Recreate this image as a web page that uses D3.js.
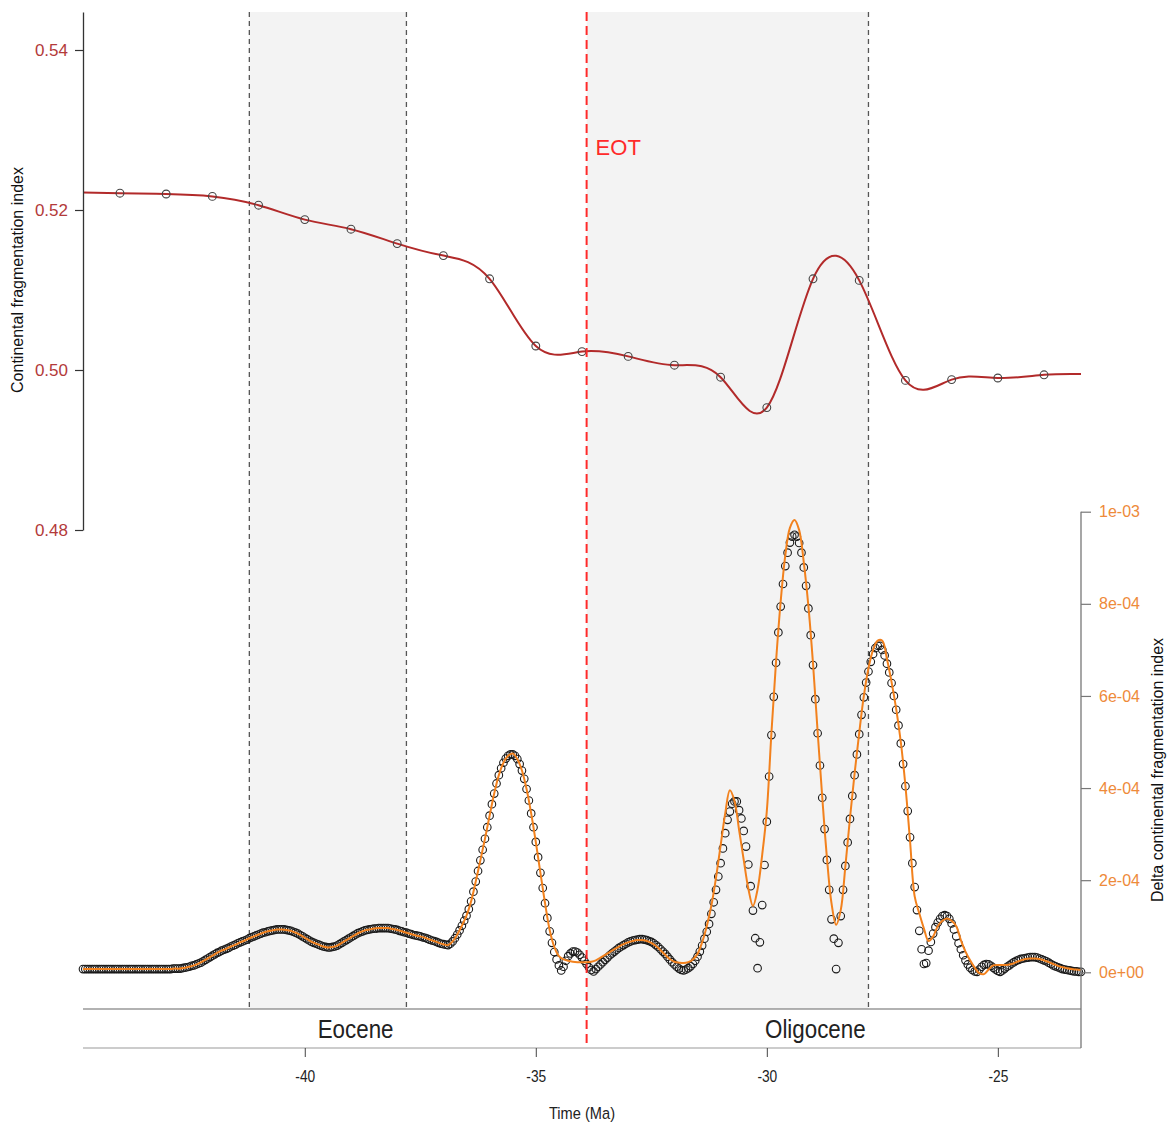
<!DOCTYPE html>
<html><head><meta charset="utf-8">
<script src="https://cdn.jsdelivr.net/npm/d3@7"></script>
<style>body{margin:0;background:#fff}svg{display:block}</style>
</head><body>
<svg id="chart" width="1173" height="1127"></svg>
<script>
// ---------------- data ----------------
const topTimes = [-44,-43,-42,-41,-40,-39,-38,-37,-36,-35,-34,-33,-32,-31,-30,-29,-28,-27,-26,-25,-24];
const topValues = [0.5221,0.5220,0.5217,0.5206,0.5188,0.5176,0.5158,0.5143,0.5114,0.5030,0.5023,0.5017,0.5006,0.4991,0.4953,0.5114,0.5112,0.4987,0.4988,0.4990,0.4994];
const topLineStart = [-44.8, 0.5222];
const topLineEnd = [-23.2, 0.4995];

// delta circles: sampled every 0.05 Ma from -44.8, values in 1e-6
const deltaStart = -44.8, deltaStep = 0.05, deltaUnit = 1e-6;
const deltaValues = [
7,7,7,7,7,7,7,7,7,7,7,7,7,7,7,7,7,7,7,7,
7,7,7,7,7,7,7,7,7,7,7,7,7,7,7,7,7,7,7,8,
8,8,8,9,10,11,12,14,15,17,19,21,24,27,30,33,36,39,42,44,
47,49,51,53,56,58,60,63,65,67,69,71,74,76,78,80,82,84,86,87,
89,90,91,92,93,93,93,93,92,91,90,88,86,84,81,78,75,72,69,66,
64,62,60,58,56,55,54,54,55,56,58,61,64,67,70,73,76,79,82,85,
87,89,91,92,93,94,95,95,96,96,96,96,96,95,94,93,92,90,89,87,
86,84,83,81,80,79,78,76,75,73,71,69,68,66,64,62,61,60,59,62,
67,74,82,91,101,112,123,137,154,175,197,220,243,266,290,315,340,365,388,410,
428,443,455,464,470,473,473,470,463,452,438,420,398,373,345,315,283,250,216,183,
150,118,89,64,44,28,15,4,12,25,35,41,45,45,43,38,32,25,18,11,
5,2,7,12,17,22,27,32,37,41,45,49,53,56,59,62,65,67,69,70,
71,72,72,71,70,68,66,63,59,55,50,45,40,34,28,22,17,12,8,5,
4,6,9,13,18,25,34,45,58,73,88,105,127,152,179,208,237,269,302,331,
349,366,371,371,352,334,307,273,234,187,134,74,9,65,146,233,327,425,515,598,
672,738,794,843,882,911,933,946,950,946,932,911,879,839,790,732,667,593,519,449,
379,311,244,179,115,73,7,64,122,179,231,282,333,383,428,473,517,559,597,629,
653,674,691,704,709,709,700,688,670,651,628,600,570,536,497,452,404,350,293,237,
185,135,90,50,18,20,47,66,84,98,108,116,122,124,122,116,106,93,78,63,
50,37,26,17,10,5,2,1,6,12,16,18,17,14,10,6,3,1,4,8,
12,15,19,22,25,27,29,30,31,32,33,33,33,32,30,28,26,24,21,18,
15,13,11,9,7,6,5,4,3,2,2,1,1
];

// smoothed delta (orange line): every 0.1 Ma from -44.8, values in 1e-6
const smoothStart = -44.8, smoothStep = 0.1;
const smoothValues = [
7,7,7,7,7,7,7,7,7,7,
7,7,7,7,7,7,7,7,7,7,
8,8,10,12,15,19,24,30,36,42,
47,51,56,60,65,69,74,78,82,86,
89,91,93,93,92,90,86,81,75,69,
64,60,56,54,55,58,64,70,76,82,
87,91,93,95,96,96,96,94,92,89,
86,83,80,78,75,71,68,64,61,59,
67,82,101,123,154,197,243,290,340,388,
428,455,470,475,463,438,398,345,283,216,
150,92,55,35,28,25,23,22,22,22,
23,26,32,38,44,50,56,61,65,68,
70,70,68,64,57,48,38,29,23,21,
20,22,28,40,65,100,145,205,275,345,
395,372,309,244,182,144,180,255,350,520,
675,805,905,965,982,960,890,795,670,522,
380,250,150,103,135,230,335,432,520,600,
660,700,720,720,680,630,572,500,405,285,
165,128,95,68,78,100,112,117,112,100,
70,45,26,10,-2,-4,6,15,16,16,
16,18,22,26,29,30,30,29,26,22,
18,14,11,9,7,6,5
];

const leftTicks = [0.48, 0.50, 0.52, 0.54];
const leftTickLabels = ["0.48", "0.50", "0.52", "0.54"];
const rightTicks = [0, 2e-4, 4e-4, 6e-4, 8e-4, 1e-3];
const rightTickLabels = ["0e+00", "2e-04", "4e-04", "6e-04", "8e-04", "1e-03"];
const timeTicks = [-40, -35, -30, -25];
const timeTickLabels = ["-40", "-35", "-30", "-25"];
const shadeStarts = [-41.2, -33.9];
const shadeEnds = [-37.8, -27.8];
const dashedTimes = [-41.2, -37.8, -27.8];
const eotTime = -33.9;
const eotLabel = "EOT";
const epochNames = ["Eocene", "Oligocene"];
const epochLabelTimes = [-38.9, -28.95];
const timeDomain = [-44.8, -23.2];

// ---------------- layout ----------------
const svg = d3.select("#chart");
const L = 83, R = 1081, TOP = 12, BAR_TOP = 1009, BAR_BOT = 1048;
const x = d3.scaleLinear().domain(timeDomain).range([L, R]);
const yTop = d3.scaleLinear().domain([0.48, 0.54475]).range([530, TOP]);
const yBot = d3.scaleLinear().domain([0, 1e-3]).range([972.3, 511.7]);

const RED = "#b22a2a", ORANGE = "#f2811d", EOTRED = "#ff2a2a";
const FONT = "'Liberation Sans', Arial, sans-serif";

// shaded intervals
svg.append("g").selectAll("rect").data(shadeStarts).join("rect")
  .attr("x", (d) => x(d)).attr("y", TOP)
  .attr("width", (d, i) => x(shadeEnds[i]) - x(d)).attr("height", BAR_TOP - TOP)
  .attr("fill", "#f3f3f3");

// dashed boundary lines
svg.append("g").selectAll("line").data(dashedTimes).join("line")
  .attr("x1", (d) => x(d)).attr("x2", (d) => x(d))
  .attr("y1", TOP).attr("y2", BAR_TOP)
  .attr("stroke", "#555").attr("stroke-width", 1.3).attr("stroke-dasharray", "5,4");

// top series
const topPts = topTimes.map((t, i) => [t, topValues[i]]);
const topLinePts = [topLineStart, ...topPts, topLineEnd];
svg.append("path").datum(topLinePts)
  .attr("fill", "none").attr("stroke", RED).attr("stroke-width", 2)
  .attr("d", d3.line().x((d) => x(d[0])).y((d) => yTop(d[1])).curve(d3.curveNatural));
svg.append("g").selectAll("circle").data(topPts).join("circle")
  .attr("cx", (d) => x(d[0])).attr("cy", (d) => yTop(d[1])).attr("r", 3.9)
  .attr("fill", "none").attr("stroke", "#444").attr("stroke-width", 1.1);

// delta circles
const deltaPts = deltaValues.map((v, i) => [deltaStart + i * deltaStep, v * deltaUnit]);
svg.append("g").selectAll("circle").data(deltaPts).join("circle")
  .attr("cx", (d) => x(d[0])).attr("cy", (d) => yBot(d[1])).attr("r", 3.8)
  .attr("fill", "none").attr("stroke", "#1a1a1a").attr("stroke-width", 1.1);

// smoothed orange line
const smoothPts = smoothValues.map((v, i) => [smoothStart + i * smoothStep, v * deltaUnit]);
svg.append("path").datum(smoothPts)
  .attr("fill", "none").attr("stroke", ORANGE).attr("stroke-width", 2)
  .attr("d", d3.line().x((d) => x(d[0])).y((d) => yBot(d[1])).curve(d3.curveCatmullRom.alpha(0.5)));

// EOT line + label
svg.append("line").attr("x1", x(eotTime)).attr("x2", x(eotTime))
  .attr("y1", TOP).attr("y2", BAR_BOT)
  .attr("stroke", EOTRED).attr("stroke-width", 2).attr("stroke-dasharray", "9,5");
svg.append("text").attr("x", x(eotTime) + 9).attr("y", 155)
  .attr("font-family", FONT).attr("font-size", 22).attr("fill", EOTRED).text(eotLabel);

// epoch bar
const bar = svg.append("g");
bar.append("line").attr("x1", L).attr("x2", R).attr("y1", BAR_TOP).attr("y2", BAR_TOP)
  .attr("stroke", "#666").attr("stroke-width", 1.2);
bar.append("line").attr("x1", L).attr("x2", R).attr("y1", BAR_BOT).attr("y2", BAR_BOT)
  .attr("stroke", "#999").attr("stroke-width", 1.2);
bar.selectAll("text").data(epochNames).join("text")
  .attr("transform", (d, i) => `translate(${x(epochLabelTimes[i])},1038) scale(0.86,1)`)
  .attr("text-anchor", "middle").attr("font-family", FONT).attr("font-size", 26)
  .attr("fill", "#222").text((d) => d);

// right vertical line (right axis + bar edge)
svg.append("line").attr("x1", R).attr("x2", R).attr("y1", yBot(1e-3)).attr("y2", BAR_BOT)
  .attr("stroke", "#777").attr("stroke-width", 1.3);

// left axis
const gL = svg.append("g").attr("transform", `translate(${L},0)`)
  .call(d3.axisLeft(yTop).tickValues(leftTicks).tickSize(8).tickSizeOuter(0).tickPadding(7)
    .tickFormat((d, i) => leftTickLabels[i]));
gL.select(".domain").attr("stroke", "#333").attr("stroke-width", 1.3);
gL.selectAll(".tick line").attr("stroke", "#333").attr("stroke-width", 1.2);
gL.selectAll(".tick text").attr("font-family", FONT).attr("font-size", 17).attr("fill", "#b33a3a");
svg.append("text").attr("transform", `translate(23,280) rotate(-90)`)
  .attr("text-anchor", "middle").attr("font-family", FONT).attr("font-size", 16)
  .attr("fill", "#111").text("Continental fragmentation index");

// right axis
const gR = svg.append("g").attr("transform", `translate(${R},0)`)
  .call(d3.axisRight(yBot).tickValues(rightTicks).tickSize(10).tickSizeOuter(0).tickPadding(8)
    .tickFormat((d, i) => rightTickLabels[i]));
gR.select(".domain").remove();
gR.selectAll(".tick line").attr("stroke", "#777").attr("stroke-width", 1.2);
gR.selectAll(".tick text").attr("font-family", FONT).attr("font-size", 16).attr("fill", "#ee8a3a");
svg.append("text").attr("transform", `translate(1163,770) rotate(-90)`)
  .attr("text-anchor", "middle").attr("font-family", FONT).attr("font-size", 16)
  .attr("fill", "#111").text("Delta continental fragmentation index");

// bottom axis
const gB = svg.append("g").attr("transform", `translate(0,${BAR_BOT})`)
  .call(d3.axisBottom(x).tickValues(timeTicks).tickSize(9).tickPadding(14)
    .tickFormat((d, i) => timeTickLabels[i]));
gB.select(".domain").remove();
gB.selectAll(".tick line").attr("stroke", "#444");
gB.selectAll(".tick text").attr("font-family", FONT).attr("font-size", 16)
  .attr("fill", "#222").attr("transform", "scale(0.86,1)")
  .attr("x", function () { return 0; });
gB.selectAll(".tick text").each(function () {
  const t = d3.select(this);
  t.attr("transform", "scale(0.86,1)");
});
svg.append("text").attr("transform", `translate(${(L + R) / 2},1119) scale(0.86,1)`)
  .attr("text-anchor", "middle").attr("font-family", FONT).attr("font-size", 17)
  .attr("fill", "#222").text("Time (Ma)");
</script>
</body></html>
